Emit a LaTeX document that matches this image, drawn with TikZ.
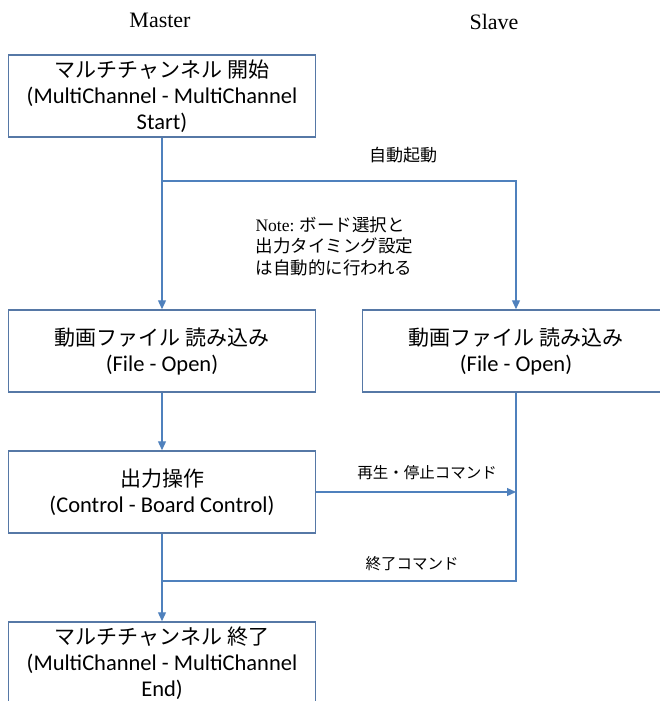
\documentclass[tikz,border=0pt]{standalone}
\usepackage{fontspec}
\setmainfont{Liberation Serif}
\newfontfamily\jpfont{Noto Sans CJK JP}
\newfontfamily\boxfont{Carlito}
\usetikzlibrary{arrows.meta}
\definecolor{flowblue}{RGB}{79,129,189}
\definecolor{edgeblue}{RGB}{86,120,166}
\newcommand{\jp}[1]{{\jpfont\fontsize{21}{26}\selectfont #1}}

\begin{document}
\begin{tikzpicture}[x=1pt,y=-1pt,
    stepbox/.style={draw=edgeblue,line width=1.5pt,minimum width=307pt,minimum height=82pt,
      align=center,inner sep=0pt,font=\boxfont\fontsize{22.5}{26}\selectfont},
    flow/.style={draw=flowblue,line width=1.3pt,-{Triangle[length=9pt,width=8pt]}},
    link/.style={draw=flowblue,line width=1.3pt},
    lane/.style={font=\fontsize{22}{25}\selectfont},
    msg/.style={font=\jpfont\fontsize{15.5}{19}\selectfont}]
  \clip (0,0) rectangle (660,701);
  \node[lane] (master) at (160,20) {Master};
  \node[lane] (slave) at (494,22) {Slave};
  \node[stepbox] (start) at (162,96) {\jp{マルチチャンネル 開始}\\(MultiChannel - MultiChannel\\Start)};
  \node[stepbox] (mfile) at (162,351) {\jp{動画ファイル 読み込み}\\(File - Open)};
  \node[stepbox] (sfile) at (516,351) {\jp{動画ファイル 読み込み}\\(File - Open)};
  \node[stepbox] (control) at (162,492) {\jp{出力操作}\\(Control - Board Control)};
  \node[stepbox] (finish) at (162,663) {\jp{マルチチャンネル 終了}\\(MultiChannel - MultiChannel\\End)};
  \coordinate (autosplit) at (162,181);
  \coordinate (endjoin) at (162,581);
  % messages
  \node[msg,font=\jpfont\fontsize{17}{20}\selectfont] (automsg) at (403,155) {自動起動};
  \node[msg,font=\jpfont\fontsize{17.5}{21.5}\selectfont,anchor=west,align=left] (note) at (252,246)
    {{\rmfamily Note:} ボード選択と\\出力タイミング設定\\は自動的に行われる};
  \node[msg] (playmsg) at (427,473) {再生・停止コマンド};
  \node[msg] (endmsg) at (412,564) {終了コマンド};
  % connectors
  \draw[flow] (start) -- (mfile);
  \draw[flow] (autosplit) -| (sfile.north);
  \draw[flow] (mfile) -- (control);
  \draw[flow] (control.east) -- (control.east -| sfile.south);
  \draw[link] (sfile.south) |- (endjoin);
  \draw[flow] (control) -- (finish);
\end{tikzpicture}
\end{document}
